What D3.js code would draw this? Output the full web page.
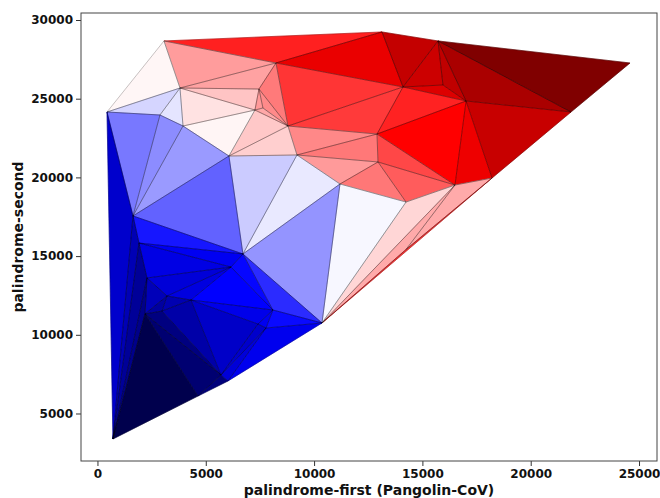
<!DOCTYPE html>
<html>
<head>
<meta charset="utf-8">
<script src="https://cdn.jsdelivr.net/npm/d3@7"></script>
<style>
  html, body { margin: 0; padding: 0; background: #fff; }
  svg { display: block; }
  text { font-family: "DejaVu Sans", sans-serif; font-weight: bold; fill: #111; }
</style>
</head>
<body>
<svg id="chart" width="660" height="498"></svg>
<script>
// ---------- data ----------
const pointNames = ["A","B","C","D","E","F","G","H","I","J","K","L","M","P1","P2","P3","Q","R","S","T","U","V","W","X","Y","SL",
  "Z","AA","AB","AC","AL","AK","AJ","AI","AH","AN","AM","AO","AQ","AP","AG","AF","AE"];
const pointX = [3070,13135,15720,24585,440,8240,3810,14105,15950,17015,21860,2885,3950,7455,7270,7640,8795,12905,6070,9210,12950,11195,14245,16505,18215,14243,
  1640,6715,10365,715,1915,2285,3210,4315,2195,2980,6165,8100,7410,7780,5700,6025,4640];
const pointY = [28670,29240,28670,27270,24155,27270,25680,25745,25870,24855,24155,23965,23265,25615,24280,24410,23265,22755,21360,21425,20980,19580,18435,19515,19960,15420,
  17550,15135,10750,3380,15830,13610,12465,12210,11320,11510,14305,11575,10685,10430,7445,7065,6110];

const triangles = [
  ["A","B","F"],["A","F","G"],["A","G","E"],["B","H","F"],["B","C","H"],["C","I","H"],["C","J","I"],["C","K","J"],["C","D","K"],["H","I","J"],
  ["F","H","Q"],["Q","H","R"],["H","J","R"],["J","K","Y"],["J","Y","X"],["R","J","X"],["R","X","U"],["U","X","W"],["W","X","AB"],["X","Y","SL"],
  ["X","SL","AB"],["Y","SL","AB"],["Q","R","T"],["T","R","U"],["T","U","V"],["U","W","V"],["V","W","AB"],["T","V","AA"],["S","T","AA"],["S","Q","T"],
  ["P2","Q","S"],["M","P2","S"],["G","P2","M"],["G","P1","P2"],["G","F","P1"],["F","P1","Q"],["P1","P3","Q"],["P1","P2","P3"],["P2","P3","Q"],
  ["E","G","L"],["G","M","L"],["E","L","Z"],["L","M","Z"],["M","S","Z"],["S","AA","Z"],["V","AA","AB"],["E","Z","AC"],
  ["Z","AA","AL"],["AL","AA","AM"],["AL","AM","AK"],["AK","AM","AJ"],["AJ","AM","AI"],["AI","AM","AO"],["AA","AM","AO"],["AA","AO","AB"],
  ["AK","AJ","AH"],["AH","AJ","AN"],["AN","AJ","AI"],["Z","AL","AC"],["AL","AK","AC"],["AK","AH","AC"],["AH","AE","AC"],["AH","AN","AG"],
  ["AH","AG","AE"],["AG","AF","AE"],["AN","AI","AG"],["AI","AQ","AG"],["AI","AO","AQ"],["AQ","AO","AP"],["AQ","AP","AG"],["AG","AP","AF"],
  ["AF","AP","AB"],["AP","AO","AB"]
];
const triangleValues = [
  0.719,0.597,0.509,0.791,0.866,0.850,0.874,0.917,1.000,0.817,
  0.698,0.693,0.717,0.858,0.783,0.750,0.680,0.660,0.540,0.583,
  0.583,0.700,0.617,0.632,0.599,0.633,0.492,0.478,0.449,0.547,
  0.554,0.510,0.528,0.558,0.591,0.630,0.615,0.600,0.585,
  0.459,0.475,0.368,0.387,0.401,0.346,0.395,0.179,
  0.272,0.232,0.212,0.195,0.207,0.250,0.256,0.292,
  0.151,0.117,0.140,0.146,0.106,0.086,0.000,0.072,
  0.050,0.065,0.128,0.173,0.220,0.230,0.179,0.195,
  0.226,0.260
];

const xTicks = [0, 5000, 10000, 15000, 20000, 25000];
const yTicks = [5000, 10000, 15000, 20000, 25000, 30000];
const xLabel = "palindrome-first (Pangolin-CoV)";
const yLabel = "palindrome-second";

// ---------- layout ----------
const plot = { left: 81, right: 657, top: 13, bottom: 461 };
const x = d3.scaleLinear().domain([-760, 25830]).range([plot.left, plot.right]);
const y = d3.scaleLinear().domain([1982, 30445]).range([plot.bottom, plot.top]);

const seismic = d3.scaleLinear()
  .domain([0, 0.25, 0.5, 0.75, 1])
  .range(["#00004d", "#0000ff", "#ffffff", "#ff0000", "#800000"])
  .clamp(true);

const svg = d3.select("#chart");
const idx = new Map(pointNames.map((n, i) => [n, i]));
const tri = triangles.map((t, i) => ({
  pts: t.map(n => [pointX[idx.get(n)], pointY[idx.get(n)]]),
  v: triangleValues[i]
}));

const line = d3.line().x(d => x(d[0])).y(d => y(d[1]));

const g = svg.append("g");
// fills
g.selectAll("path.fill").data(tri).join("path")
  .attr("class", "fill")
  .attr("d", d => line(d.pts) + "Z")
  .attr("fill", d => seismic(d.v))
  .attr("stroke", d => seismic(d.v))
  .attr("stroke-width", 0.6)
  .attr("stroke-linejoin", "round");
// edges
g.selectAll("path.edge").data(tri).join("path")
  .attr("class", "edge")
  .attr("d", d => line(d.pts) + "Z")
  .attr("fill", "none")
  .attr("stroke", "rgba(0,0,0,0.38)")
  .attr("stroke-width", 0.6)
  .attr("stroke-linejoin", "round");

// axes
const xAxis = d3.axisBottom(x).tickValues(xTicks).tickFormat(d3.format("d")).tickSize(5).tickPadding(3);
const yAxis = d3.axisLeft(y).tickValues(yTicks).tickFormat(d3.format("d")).tickSize(5).tickPadding(3);

const gx = svg.append("g").attr("transform", `translate(0,${plot.bottom})`).call(xAxis);
const gy = svg.append("g").attr("transform", `translate(${plot.left},0)`).call(yAxis);
[gx, gy].forEach(a => {
  a.select(".domain").remove();
  a.selectAll(".tick line").attr("stroke", "#333").attr("stroke-width", 1);
  a.selectAll(".tick text").style("font-size", "12px").style("font-weight", "bold")
    .style("font-family", "'DejaVu Sans', sans-serif").attr("fill", "#111");
});

// frame
svg.append("rect")
  .attr("x", plot.left).attr("y", plot.top)
  .attr("width", plot.right - plot.left).attr("height", plot.bottom - plot.top)
  .attr("fill", "none").attr("stroke", "#444").attr("stroke-width", 1);

// labels
svg.append("text")
  .attr("x", (plot.left + plot.right) / 2).attr("y", 495)
  .attr("text-anchor", "middle").style("font-size", "14px")
  .text(xLabel);
svg.append("text")
  .attr("transform", `translate(23,${(plot.top + plot.bottom) / 2}) rotate(-90)`)
  .attr("text-anchor", "middle").style("font-size", "14px")
  .text(yLabel);
</script>
</body>
</html>
